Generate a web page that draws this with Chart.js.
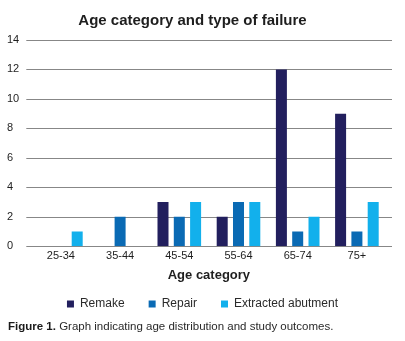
<!DOCTYPE html>
<html>
<head>
<meta charset="utf-8">
<script src="https://cdn.jsdelivr.net/npm/chart.js@4/dist/chart.umd.min.js"></script>
<style>
  html, body { margin: 0; padding: 0; background: #ffffff; }
  body { width: 405px; height: 341px; position: relative; overflow: hidden; font-family: "Liberation Sans", Arial, sans-serif; }
  #wrap { position: absolute; left: 0; top: 0; width: 405px; height: 320px; }
  #title { position: absolute; left: 0; top: 11px; width: 385px; text-align: center; font: bold 15px/18px "Liberation Sans", Arial, sans-serif; color: #1e1e1e; }
  #caption { position: absolute; left: 8px; top: 319px; font: 11.5px/14px "Liberation Sans", Arial, sans-serif; color: #2a2a2a; white-space: nowrap; }
  #caption b { font-weight: bold; color: #1a1a1a; }
</style>
</head>
<body>
<div id="wrap"><canvas id="c"></canvas></div>
<div id="title">Age category and type of failure</div>
<div id="caption"><b>Figure 1.</b> Graph indicating age distribution and study outcomes.</div>
<script>
const categories = ["25-34", "35-44", "45-54", "55-64", "65-74", "75+"];
const seriesNames = ["Remake", "Repair", "Extracted abutment"];
const remake = [0, 0, 3, 2, 12, 9];
const repair = [0, 2, 2, 3, 1, 1];
const extracted = [1, 0, 3, 3, 2, 3];
const yTicks = [0, 2, 4, 6, 8, 10, 12, 14];
const colors = ["#221f5e", "#0a6ab4", "#12b0ec"];

const gridPlugin = {
  id: 'extGrid',
  beforeDatasetsDraw(chart) {
    const ctx = chart.ctx, y = chart.scales.y, a = chart.chartArea;
    ctx.save();
    ctx.strokeStyle = '#878787';
    ctx.lineWidth = 1;
    y.ticks.forEach(t => {
      const py = Math.round(y.getPixelForValue(t.value)) + 0.5;
      ctx.beginPath();
      ctx.moveTo(a.left - 5, py);
      ctx.lineTo(a.right + 5.5, py);
      ctx.stroke();
    });
    ctx.restore();
  }
};

const seriesData = [remake, repair, extracted];
new Chart(document.getElementById('c'), {
  type: 'bar',
  data: {
    labels: categories,
    datasets: seriesNames.map((n, i) => ({
      label: n,
      data: seriesData[i],
      backgroundColor: colors[i],
      borderWidth: 0,
      categoryPercentage: 0.826,
      barPercentage: 0.675
    }))
  },
  options: {
    responsive: true,
    maintainAspectRatio: false,
    animation: false,
    devicePixelRatio: 1,
    layout: { padding: { top: 40, left: 7, right: 7, bottom: 6 } },
    plugins: {
      title: { display: false },
      tooltip: { enabled: false },
      legend: {
        position: 'bottom',
        maxHeight: 40,
        labels: {
          boxWidth: 7,
          boxHeight: 7,
          padding: 24,
          color: '#2a2a2a',
          font: { family: "'Liberation Sans', Arial, sans-serif", size: 12 }
        }
      }
    },
    scales: {
      x: {
        grid: { display: false, drawTicks: false },
        border: { display: false },
        ticks: { color: '#1e1e1e', padding: 3, maxRotation: 0, font: { family: "'Liberation Sans', Arial, sans-serif", size: 11 } },
        title: {
          display: true,
          text: 'Age category',
          color: '#1e1e1e',
          padding: { top: 2, bottom: -9 },
          font: { family: "'Liberation Sans', Arial, sans-serif", size: 13, weight: 'bold' }
        }
      },
      y: {
        min: 0,
        max: 14,
        afterBuildTicks(s) { s.ticks = yTicks.map(v => ({ value: v })); },
        afterFit(s) { s.width = 24.3; },
        grid: { display: false, drawTicks: false },
        border: { display: false },
        ticks: { crossAlign: 'far', color: '#1e1e1e', font: { family: "'Liberation Sans', Arial, sans-serif", size: 11 } }
      },
      yR: {
        position: 'right',
        afterFit(s) { s.width = 11.5; },
        grid: { display: false, drawTicks: false },
        border: { display: false },
        ticks: { display: false }
      }
    }
  },
  plugins: [gridPlugin]
});
</script>
</body>
</html>
